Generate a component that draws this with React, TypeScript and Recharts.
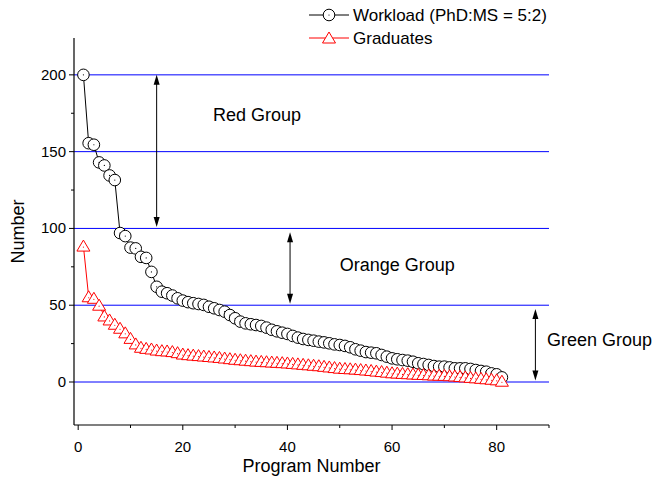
import { ComposedChart, Line, XAxis, YAxis, ReferenceLine, ReferenceDot } from "recharts";

// program-by-program values, sorted by workload
const workload = [
  200, 155.5, 154.5, 143, 141, 134.5, 131.5, 97, 95, 87.5,
  87, 81.5, 80.8, 71.7, 62, 58.8, 57.8, 56.3, 54.5, 53,
  52, 51.3, 50.8, 50.2, 49, 48, 46.9, 45.8, 43.6, 41.5,
  39.3, 38.2, 37.6, 37.1, 36.5, 35.4, 34, 33, 32.1, 31.3,
  30, 28.9, 28, 27.4, 26.9, 26.3, 25.8, 25.2, 24.5, 24.1,
  23.5, 22.6, 21.3, 20.4, 19.5, 19.1, 18.7, 17.6, 16.5, 15.4,
  14.8, 14.3, 13.9, 13.2, 12.2, 11.7, 11.1, 10.4, 10, 10,
  9.5, 8.9, 8.9, 8.9, 8.5, 7.8, 7.2, 6.7, 5.6, 5,
  3,
];

const graduates = [
  88.5, 55.5, 54.5, 50, 43, 40.4, 37.6, 35, 32, 28.4,
  24.8, 22.6, 21.9, 21.5, 20.8, 20.4, 20.2, 19.8, 19.1, 18.2,
  17.8, 17.5, 17.2, 16.9, 16.6, 16.3, 16, 15.6, 15.2, 14.8,
  14.5, 14.2, 13.9, 13.6, 13.4, 13.2, 13, 12.8, 12.6, 12.4,
  12.1, 11.8, 11.5, 11.2, 10.9, 10.6, 10.2, 9.8, 9.4, 9,
  8.8, 8.6, 8.4, 8.1, 7.8, 7.5, 7.1, 6.8, 6.4, 6,
  5.8, 5.6, 5.4, 5.2, 5, 4.9, 4.7, 4.5, 4.4, 4.3,
  4.1, 3.9, 3.6, 3.3, 3, 2.7, 2.4, 2.1, 1.8, 1.4,
  0.5,
];

const xTicks = [0, 10, 20, 30, 40, 50, 60, 70, 80, 90];
const yTicks = [0, 25, 50, 75, 100, 125, 150, 175, 200];
const groupLevels = [0, 50, 100, 150, 200];

// double arrows marking each group band
const groupArrows = [
  { x: 15, y1: 200, y2: 101 },
  { x: 40.5, y1: 97.5, y2: 51 },
  { x: 87.4, y1: 47.5, y2: 1 },
];

const groupLabels = [
  { text: "Red Group", x: 34.2, y: 174, anchor: "middle" },
  { text: "Orange Group", x: 61, y: 76, anchor: "middle" },
  { text: "Green Group", x: 89.6, y: 27.4, anchor: "start" },
];

const data = workload.map((w, i) => ({ program: i + 1, workload: w, graduates: graduates[i] }));

const FONT = "'Liberation Sans', Arial, sans-serif";

const XTick = (props: any) => {
  const { x, y, payload } = props;
  const major = payload.value % 20 === 0;
  return (
    <g>
      <line x1={x} y1={y} x2={x} y2={y + (major ? 5 : 3)} stroke="#000" />
      {major && (
        <text x={x} y={y + 27} textAnchor="middle" fontSize={15} fontFamily={FONT} fill="#000">
          {payload.value}
        </text>
      )}
    </g>
  );
};

const YTick = (props: any) => {
  const { x, y, payload } = props;
  const major = payload.value % 50 === 0;
  return (
    <g>
      <line x1={x} y1={y} x2={x - (major ? 5 : 3)} y2={y} stroke="#000" />
      {major && (
        <text x={x - 8} y={y + 5} textAnchor="end" fontSize={15} fontFamily={FONT} fill="#000">
          {payload.value}
        </text>
      )}
    </g>
  );
};

const CircleDot = (props: any) => {
  const { cx, cy, index } = props;
  return (
    <g key={"c" + index}>
      <circle cx={cx} cy={cy} r={5.8} fill="#fff" stroke="#000" strokeWidth={1} />
      <circle cx={cx} cy={cy} r={0.6} fill="#000" />
    </g>
  );
};

const TriangleDot = (props: any) => {
  const { cx, cy, index } = props;
  return (
    <g key={"t" + index}>
      <polygon
        points={`${cx},${cy - 6} ${cx - 6.5},${cy + 5} ${cx + 6.5},${cy + 5}`}
        fill="#fff"
        stroke="#ff0000"
        strokeWidth={1}
      />
      <circle cx={cx} cy={cy + 1} r={0.6} fill="#ff0000" />
    </g>
  );
};

const DoubleArrow = (props: any) => {
  const { x1, y1, x2, y2 } = props;
  const top = Math.min(y1, y2);
  const bot = Math.max(y1, y2);
  const x = (x1 + x2) / 2;
  return (
    <g>
      <line x1={x} y1={top + 4} x2={x} y2={bot - 4} stroke="#000" strokeWidth={1} />
      <polygon points={`${x},${top} ${x - 3},${top + 10} ${x + 3},${top + 10}`} fill="#000" />
      <polygon points={`${x},${bot} ${x - 3},${bot - 10} ${x + 3},${bot - 10}`} fill="#000" />
    </g>
  );
};

function Legendish() {
  return (
    <svg width={652} height={60} style={{ position: "absolute", left: 0, top: 0, pointerEvents: "none" }}>
      <line x1={309} y1={15} x2={349} y2={15} stroke="#000" />
      <circle cx={329} cy={15} r={5.8} fill="#fff" stroke="#000" />
      <circle cx={329} cy={15} r={0.6} fill="#000" />
      <text x={353} y={21} fontSize={17} fontFamily={FONT} fill="#000">
        Workload (PhD:MS = 5:2)
      </text>
      <line x1={309} y1={38} x2={349} y2={38} stroke="#ff0000" />
      <polygon points="329,32 322.5,43 335.5,43" fill="#fff" stroke="#ff0000" />
      <text x={353} y={44} fontSize={17} fontFamily={FONT} fill="#000">
        Graduates
      </text>
    </svg>
  );
}

export default function App() {
  return (
    <div style={{ position: "absolute", left: 0, top: 0, width: 652, height: 480, background: "#fff" }}>
      <ComposedChart
        width={652}
        height={480}
        data={data}
        margin={{ top: 38, right: 103, bottom: 0, left: 0 }}
        style={{ fontFamily: FONT }}
      >
        <XAxis
          dataKey="program"
          type="number"
          domain={[-0.8, 90]}
          ticks={xTicks}
          interval={0}
          height={55}
          tickSize={0}
          tickMargin={0}
          tick={<XTick />}
          axisLine={{ stroke: "#000", strokeWidth: 1.2 }}
          allowDataOverflow
          label={{ value: "Program Number", position: "insideBottom", offset: 8, fontSize: 18, fill: "#000" }}
        />
        <YAxis
          type="number"
          domain={[-28, 224]}
          ticks={yTicks}
          interval={0}
          width={74}
          tickSize={0}
          tickMargin={0}
          tick={<YTick />}
          axisLine={{ stroke: "#000", strokeWidth: 1.2 }}
          allowDataOverflow
          label={{
            value: "Number",
            angle: -90,
            position: "insideLeft",
            offset: 18,
            fontSize: 18,
            fill: "#000",
            style: { textAnchor: "middle" },
          }}
        />
        {groupLevels.map((v) => (
          <ReferenceLine key={v} y={v} stroke="#0000ff" strokeWidth={1} />
        ))}
        {groupArrows.map((a, i) => (
          <ReferenceLine
            key={"a" + i}
            segment={[
              { x: a.x, y: a.y1 },
              { x: a.x, y: a.y2 },
            ]}
            shape={<DoubleArrow />}
          />
        ))}
        {groupLabels.map((g) => (
          <ReferenceDot
            key={g.text}
            x={g.x}
            y={g.y}
            r={0}
            shape={(p: any) => (
              <text
                x={p.cx}
                y={p.cy + 6}
                textAnchor={g.anchor as any}
                fontSize={18}
                fontFamily={FONT}
                fill="#000"
              >
                {g.text}
              </text>
            )}
          />
        ))}
        <Line
          dataKey="workload"
          type="linear"
          stroke="#000"
          strokeWidth={1}
          dot={<CircleDot />}
          activeDot={false}
          isAnimationActive={false}
        />
        <Line
          dataKey="graduates"
          type="linear"
          stroke="#ff0000"
          strokeWidth={1}
          dot={<TriangleDot />}
          activeDot={false}
          isAnimationActive={false}
        />
      </ComposedChart>
      <Legendish />
    </div>
  );
}
